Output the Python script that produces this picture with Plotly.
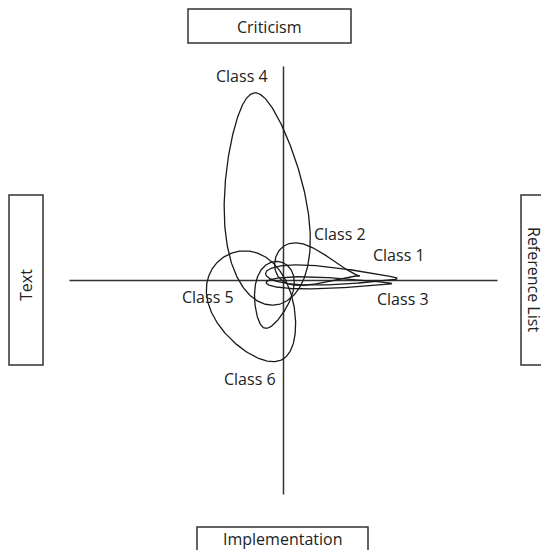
import numpy as np
import plotly.graph_objects as go

# Положение классов в пространстве двух осей (шкала осей от -100 до 100)
classes = ['Class 1', 'Class 2', 'Class 3', 'Class 4', 'Class 5', 'Class 6']
center_x = [22.4, 15.9, 21.3, -8.8, -5.1, -13.6]
center_y = [2.1, 5.8, -1.2, 38.1, -6.8, -12.6]
half_length = [30.8, 20.2, 29.4, 49.8, 15.9, 27.6]
half_width = [4.1, 7.6, 2.5, 19.0, 8.6, 18.5]
angle_deg = [-2.2, -10.7, -0.5, 95.5, 257.0, -62.0]
taper = [0.6, 1.0, 0.6, 0.3, 0.3, 0.2]

label_x = [54.0, 26.4, 55.8, -19.4, -35.3, -15.7]
label_y = [11.9, 21.7, -8.6, 95.6, -7.9, -45.8]

# Подписи полюсов осей
pole_top = 'Criticism'
pole_bottom = 'Implementation'
pole_left = 'Text'
pole_right = 'Reference List'

FONT = dict(family='Open Sans, Noto Sans, sans-serif', size=16, color='#222')
PAD = 8  # отступ body страницы
W, H = 549 - PAD, 550 - PAD


def loop_points(cx, cy, a, b, ang, k, n=300):
    """Каплевидный контур: острый конец смотрит в сторону угла ang."""
    t = np.linspace(0, 2 * np.pi, n)
    u = a * np.cos(t)
    v = b * np.sin(t) * (1 - k * np.cos(t))
    r = np.deg2rad(ang)
    x = cx + u * np.cos(r) - v * np.sin(r)
    y = cy + u * np.sin(r) + v * np.cos(r)
    return x, y


fig = go.Figure()

for i, name in enumerate(classes):
    x, y = loop_points(center_x[i], center_y[i], half_length[i],
                       half_width[i], angle_deg[i], taper[i])
    fig.add_trace(go.Scatter(x=x, y=y, mode='lines', name=name,
                             line=dict(color='#1a1a1a', width=1.3),
                             hoverinfo='name', showlegend=False))
    fig.add_annotation(x=label_x[i], y=label_y[i], text=name,
                       showarrow=False, font=FONT)

# Оси
axis_line = dict(color='#333', width=1.5)
fig.add_shape(type='line', x0=-100, x1=100, y0=0, y1=0, line=axis_line, layer='below')
fig.add_shape(type='line', x0=0, x1=0, y0=-100, y1=100, line=axis_line, layer='below')


def px(x, y):
    # пиксели страницы -> paper
    return (x - PAD) / W, 1 - (y - PAD) / H


def box(x0, y0, x1, y1):
    a, b = px(x0, y1)
    c, d = px(x1, y0)
    fig.add_shape(type='rect', xref='paper', yref='paper',
                  x0=a, x1=c, y0=b, y1=d, line=dict(color='#333', width=1.5))


def pole(x, y, text, angle=0):
    a, b = px(x, y)
    fig.add_annotation(xref='paper', yref='paper', x=a, y=b, text=text,
                       xanchor='center', yanchor='middle',
                       showarrow=False, font=FONT, textangle=angle)


box(188, 9, 351, 43)
box(197, 527, 368, 565)
box(9, 195, 43, 365)
box(521, 195, 565, 365)

pole(269.5, 27, pole_top)
pole(282.5, 538.5, pole_bottom)
pole(26, 285, pole_left, -90)
pole(534, 279, pole_right, 90)

# начало координат страницы (283.5, 280.5), 100 единиц = 214 px
ox, oy, k = 283.5 - PAD, 280.5 - PAD, 2.14
fig.update_layout(width=W, height=H, margin=dict(l=0, r=0, t=0, b=0),
                  paper_bgcolor='white', plot_bgcolor='white',
                  xaxis=dict(range=[-ox / k, (W - ox) / k], visible=False, fixedrange=True),
                  yaxis=dict(range=[-(H - oy) / k, oy / k], visible=False, fixedrange=True))

fig.write_html('out.html')
